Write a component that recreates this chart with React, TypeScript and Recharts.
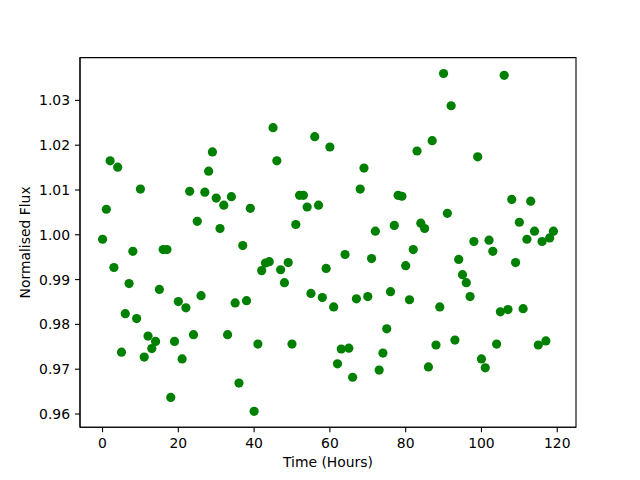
import React from 'react';
import { ScatterChart, Scatter, XAxis, YAxis, ReferenceArea } from 'recharts';

const hours = [
  0, 1, 2, 3, 4, 5, 6, 7, 8, 9, 10, 11, 12, 13, 14, 15, 16, 17, 18, 19,
  20, 21, 22, 23, 24, 25, 26, 27, 28, 29, 30, 31, 32, 33, 34, 35, 36, 37, 38, 39,
  40, 41, 42, 43, 44, 45, 46, 47, 48, 49, 50, 51, 52, 53, 54, 55, 56, 57, 58, 59,
  60, 61, 62, 63, 64, 65, 66, 67, 68, 69, 70, 71, 72, 73, 74, 75, 76, 77, 78, 79,
  80, 81, 82, 83, 84, 85, 86, 87, 88, 89, 90, 91, 92, 93, 94, 95, 96, 97, 98, 99,
  100, 101, 102, 103, 104, 105, 106, 107, 108, 109, 110, 111, 112, 113, 114, 115, 116, 117, 118, 119,
];

const flux = [
  0.9990, 1.0057, 1.0165, 0.9927, 1.0151, 0.9738, 0.9824, 0.9891, 0.9963, 0.9813,
  1.0102, 0.9727, 0.9774, 0.9746, 0.9762, 0.9878, 0.9967, 0.9967, 0.9637, 0.9762,
  0.9851, 0.9723, 0.9837, 1.0097, 0.9777, 1.0030, 0.9864, 1.0095, 1.0142, 1.0185,
  1.0082, 1.0014, 1.0066, 0.9777, 1.0085, 0.9848, 0.9669, 0.9976, 0.9853, 1.0059,
  0.9606, 0.9756, 0.9920, 0.9937, 0.9940, 1.0239, 1.0165, 0.9922, 0.9893, 0.9938,
  0.9756, 1.0023, 1.0088, 1.0088, 1.0062, 0.9869, 1.0219, 1.0066, 0.9860, 0.9925,
  1.0196, 0.9839, 0.9712, 0.9745, 0.9956, 0.9747, 0.9682, 0.9857, 1.0102, 1.0149,
  0.9862, 0.9947, 1.0008, 0.9698, 0.9736, 0.9790, 0.9873, 1.0021, 1.0088, 1.0086,
  0.9931, 0.9855, 0.9967, 1.0187, 1.0026, 1.0014, 0.9705, 1.0210, 0.9754, 0.9839,
  1.0360, 1.0048, 1.0288, 0.9765, 0.9945, 0.9911, 0.9893, 0.9862, 0.9985, 1.0174,
  0.9723, 0.9703, 0.9988, 0.9963, 0.9756, 0.9828, 1.0356, 0.9833, 1.0079, 0.9938,
  1.0028, 0.9835, 0.9990, 1.0075, 1.0008, 0.9754, 0.9985, 0.9763, 0.9993, 1.0008,
];

const xTicks = [0, 20, 40, 60, 80, 100, 120];
const yTicks = [0.96, 0.97, 0.98, 0.99, 1.0, 1.01, 1.02, 1.03];

const xDomain: [number, number] = [-5.95, 124.95];
const yDomain: [number, number] = [0.95705, 1.03955];

const data = hours.map((h, i) => ({ hour: h, flux: flux[i] }));

const FONT = "'DejaVu Sans', sans-serif";
const tickStyle = { fill: '#000', fontSize: 13.9, fontFamily: FONT };

const Dot = (props: any) => (
  <circle cx={props.cx} cy={props.cy} r={4.6} fill="#008000" />
);

const XLabel = () => (
  <text x={328} y={466.5} textAnchor="middle" fontSize={13.9} fontFamily={FONT} fill="#000">
    Time (Hours)
  </text>
);

const YLabel = () => (
  <text
    x={30.5}
    y={242.4}
    textAnchor="middle"
    fontSize={13.9}
    fontFamily={FONT}
    fill="#000"
    transform="rotate(-90, 30.5, 242.4)"
  >
    Normalised Flux
  </text>
);

export default function App() {
  return (
    <div style={{ position: 'absolute', left: 0, top: 0, width: 640, height: 480, background: '#fff' }}>
      <ScatterChart width={640} height={480} margin={{ top: 57.6, right: 64, bottom: 0, left: 0 }}>
        <XAxis
          type="number"
          dataKey="hour"
          domain={xDomain}
          ticks={xTicks}
          interval={0}
          allowDataOverflow
          height={52.8}
          tickSize={5}
          tickMargin={6}
          axisLine={{ stroke: '#000', strokeWidth: 1.1 }}
          tickLine={{ stroke: '#000', strokeWidth: 1.1 }}
          tick={tickStyle}
          label={<XLabel />}
        />
        <YAxis
          type="number"
          dataKey="flux"
          domain={yDomain}
          ticks={yTicks}
          interval={0}
          allowDataOverflow
          width={80}
          tickSize={5}
          tickMargin={5}
          tickFormatter={(v: number) => v.toFixed(2)}
          axisLine={{ stroke: '#000', strokeWidth: 1.1 }}
          tickLine={{ stroke: '#000', strokeWidth: 1.1 }}
          tick={tickStyle}
          label={<YLabel />}
        />
        <Scatter data={data} fill="#008000" shape={Dot} isAnimationActive={false} />
        <ReferenceArea
          x1={xDomain[0]}
          x2={xDomain[1]}
          y1={yDomain[0]}
          y2={yDomain[1]}
          fill="none"
          fillOpacity={0}
          stroke="#000"
          strokeWidth={1.1}
        />
      </ScatterChart>
    </div>
  );
}
